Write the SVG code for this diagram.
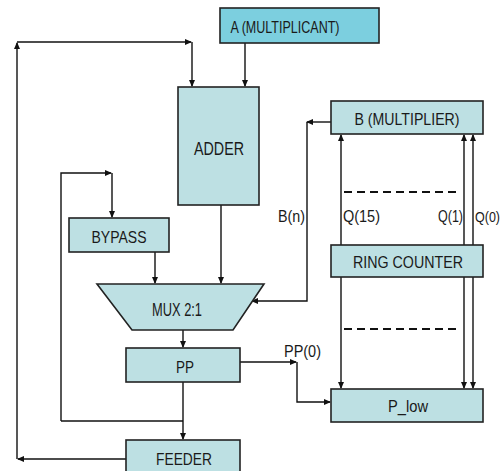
<svg xmlns="http://www.w3.org/2000/svg" width="503" height="471" viewBox="0 0 503 471">
<defs>
<marker id="ah" markerWidth="7" markerHeight="6" refX="6" refY="3" orient="auto" markerUnits="userSpaceOnUse">
<path d="M0,0 L7,3 L0,6 z" fill="#111"/>
</marker>
<style>
.box{fill:#bde0e3;stroke:#222;stroke-width:1.6}
.boxa{fill:#7ccfdf;stroke:#222;stroke-width:1.6}
.t{font-family:"Liberation Sans",Arial,sans-serif;font-size:17px;fill:#1a1a1a;text-anchor:middle}
.l{font-family:"Liberation Sans",Arial,sans-serif;font-size:16px;fill:#1a1a1a}
.c{fill:none;stroke:#111;stroke-width:1.4}
.ca{fill:none;stroke:#111;stroke-width:1.4;marker-end:url(#ah)}
.d{fill:none;stroke:#111;stroke-width:2;stroke-dasharray:8,5}
</style>
</defs>
<rect width="503" height="471" fill="#fff"/>
<g id="connectors">
<path class="ca" d="M245,43 V86"/>
<path class="ca" d="M17,459 V43"/>
<path class="ca" d="M17,42 H191"/>
<path class="ca" d="M192,42 V86"/>
<path class="ca" d="M61,421 V173 H111"/>
<path class="ca" d="M112,173 V217"/>
<path class="c" d="M183,421 H61"/>
<path class="ca" d="M155,252 V283"/>
<path class="ca" d="M221,205 V283"/>
<path class="ca" d="M331,122 H307"/>
<path class="ca" d="M307,122 V301 H252"/>
<path class="ca" d="M183,330 V347"/>
<path class="ca" d="M183,382 V439"/>
<path class="ca" d="M126,459 H18"/>
<path class="ca" d="M240,362 H296"/>
<path class="ca" d="M297,362 V402 H330"/>
<path class="ca" d="M341,245 V135"/>
<path class="ca" d="M464,245 V135"/>
<path class="ca" d="M473,245 V135"/>
<path class="ca" d="M341,277 V388"/>
<path class="ca" d="M464,277 V388"/>
<path class="ca" d="M473,277 V388"/>
<path class="d" d="M344,192 H458"/>
<path class="d" d="M344,329 H458"/>
<text class="l" x="278" y="222" textLength="27" lengthAdjust="spacingAndGlyphs">B(n)</text>
<text class="l" x="343" y="222" textLength="37" lengthAdjust="spacingAndGlyphs">Q(15)</text>
<text class="l" x="438" y="222" textLength="25" lengthAdjust="spacingAndGlyphs">Q(1)</text>
<text class="l" x="475" y="222" textLength="25" lengthAdjust="spacingAndGlyphs" style="font-size:14px">Q(0)</text>
<text class="l" x="284" y="357" textLength="37" lengthAdjust="spacingAndGlyphs">PP(0)</text>
</g>
<g id="nodeA">
<rect class="boxa" x="220" y="8" width="159" height="35"/>
<text class="t" x="285" y="33" textLength="109" lengthAdjust="spacingAndGlyphs">A (MULTIPLICANT)</text>
</g>
<g id="adder">
<rect class="box" x="178" y="87" width="81" height="118"/>
<text class="t" x="219" y="155" textLength="50" lengthAdjust="spacingAndGlyphs" style="font-size:18px">ADDER</text>
</g>
<g id="bypass">
<rect class="box" x="69" y="218" width="100" height="34"/>
<text class="t" x="119" y="243" textLength="55" lengthAdjust="spacingAndGlyphs">BYPASS</text>
</g>
<g id="mux">
<path class="box" d="M97,284 H264 L233,330 H132 Z"/>
<text class="t" x="177" y="316" textLength="50" lengthAdjust="spacingAndGlyphs" style="font-size:19px">MUX 2:1</text>
</g>
<g id="pp">
<rect class="box" x="126" y="348" width="114" height="34"/>
<text class="t" x="185" y="373" textLength="18" lengthAdjust="spacingAndGlyphs">PP</text>
</g>
<g id="feeder">
<rect class="box" x="126" y="440" width="114" height="40"/>
<text class="t" x="184" y="465" textLength="56" lengthAdjust="spacingAndGlyphs">FEEDER</text>
</g>
<g id="multiplier">
<rect class="box" x="331" y="101" width="152" height="33"/>
<text class="t" x="407" y="125" textLength="105" lengthAdjust="spacingAndGlyphs">B (MULTIPLIER)</text>
</g>
<g id="ringcounter">
<rect class="box" x="331" y="245" width="152" height="32"/>
<text class="t" x="408" y="268" textLength="110" lengthAdjust="spacingAndGlyphs">RING COUNTER</text>
</g>
<g id="plow">
<rect class="box" x="331" y="389" width="152" height="33"/>
<text class="t" x="408" y="412" textLength="40" lengthAdjust="spacingAndGlyphs">P_low</text>
</g>
</svg>
